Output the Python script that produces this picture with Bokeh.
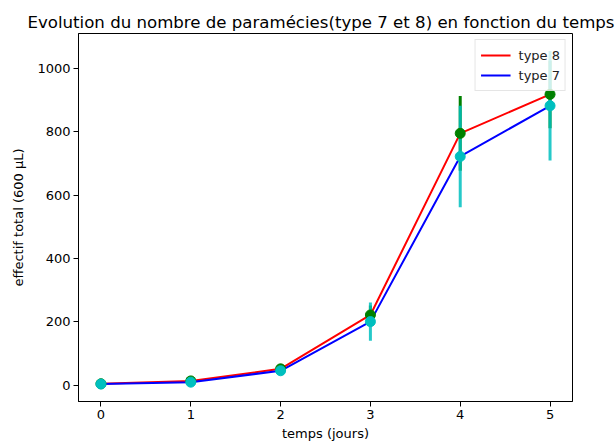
from bokeh.plotting import figure
from bokeh.models import ColumnDataSource, Legend, LegendItem, FixedTicker, Range1d
from bokeh.embed import file_html
from bokeh.resources import INLINE

# ---- data ----
jours = [0, 1, 2, 3, 4, 5]
type8 = [5, 14, 52, 222, 795, 918]
type8_err = [2, 4, 8, 30, 118, 107]
type7 = [4, 10, 46, 201, 722, 882]
type7_err = [2, 4, 8, 60, 160, 173]
x_ticks = [0, 1, 2, 3, 4, 5]
y_ticks = [0, 200, 400, 600, 800, 1000]

FONT = "DejaVu Sans"

src8 = ColumnDataSource(dict(
    x=jours, y=type8,
    lo=[v - e for v, e in zip(type8, type8_err)],
    hi=[v + e for v, e in zip(type8, type8_err)],
))
src7 = ColumnDataSource(dict(
    x=jours, y=type7,
    lo=[v - e for v, e in zip(type7, type7_err)],
    hi=[v + e for v, e in zip(type7, type7_err)],
))

p = figure(width=616, height=443, output_backend="svg", toolbar_location=None,
           x_range=Range1d(-0.25, 5.25), y_range=Range1d(-51, 1110),
           min_border_left=78, min_border_right=44, min_border_top=33,
           min_border_bottom=41)

p.title.text = "Evolution du nombre de paramécies(type 7 et 8) en fonction du temps"
p.title.align = "left"
p.title.offset = -51
p.title.text_font = FONT
p.title.text_font_size = "16.6px"
p.title.text_font_style = "normal"
p.title.text_color = "black"
p.title.standoff = 4

p.xgrid.visible = False
p.ygrid.visible = False
p.outline_line_color = "black"
p.outline_line_width = 1
p.background_fill_color = "white"
p.border_fill_color = "white"

for ax in (p.xaxis[0], p.yaxis[0]):
    ax.major_tick_in = 0
    ax.major_tick_out = 5
    ax.minor_tick_line_color = None
    ax.axis_line_color = "black"
    ax.major_tick_line_color = "black"
    ax.major_label_text_font = FONT
    ax.major_label_text_font_size = "13px"
    ax.major_label_text_color = "black"
    ax.axis_label_text_font = FONT
    ax.axis_label_text_font_size = "13px"
    ax.axis_label_text_font_style = "normal"
    ax.axis_label_text_color = "black"

p.xaxis.ticker = FixedTicker(ticks=x_ticks)
p.yaxis.ticker = FixedTicker(ticks=y_ticks)
p.xaxis.axis_label = "temps (jours)"
p.yaxis.axis_label = "effectif total (600 µL)"
p.xaxis.major_label_standoff = 3
p.yaxis.major_label_standoff = 3
p.xaxis.axis_label_standoff = 4
p.yaxis.axis_label_standoff = 8

# lines
r8 = p.line("x", "y", source=src8, line_color="#ff0000", line_width=2)
r7 = p.line("x", "y", source=src7, line_color="#0000ff", line_width=2)

# error bars
p.segment(x0="x", y0="lo", x1="x", y1="hi", source=src8, line_color="#008000", line_width=3)
p.segment(x0="x", y0="lo", x1="x", y1="hi", source=src7, line_color="#00bfbf",
          line_width=3, line_alpha=0.85)

# markers
p.scatter("x", "y", source=src8, size=10, fill_color="#008000", line_color="#008000")
p.scatter("x", "y", source=src7, size=10, fill_color="#00bfbf", line_color="#00bfbf")

legend = Legend(items=[LegendItem(label="type 8", renderers=[r8]),
                       LegendItem(label="type 7", renderers=[r7])],
                location="top_right")
legend.margin = 6
legend.padding = 5
legend.spacing = 0
legend.label_text_font = FONT
legend.label_text_font_size = "13px"
legend.label_text_color = "#222222"
legend.glyph_width = 30
legend.glyph_height = 20
legend.label_height = 20
legend.label_standoff = 8
legend.border_line_color = "#cccccc"
legend.border_line_width = 1
legend.background_fill_alpha = 0.8
p.add_layout(legend)

open("out.html", "w").write(file_html(p, INLINE))
